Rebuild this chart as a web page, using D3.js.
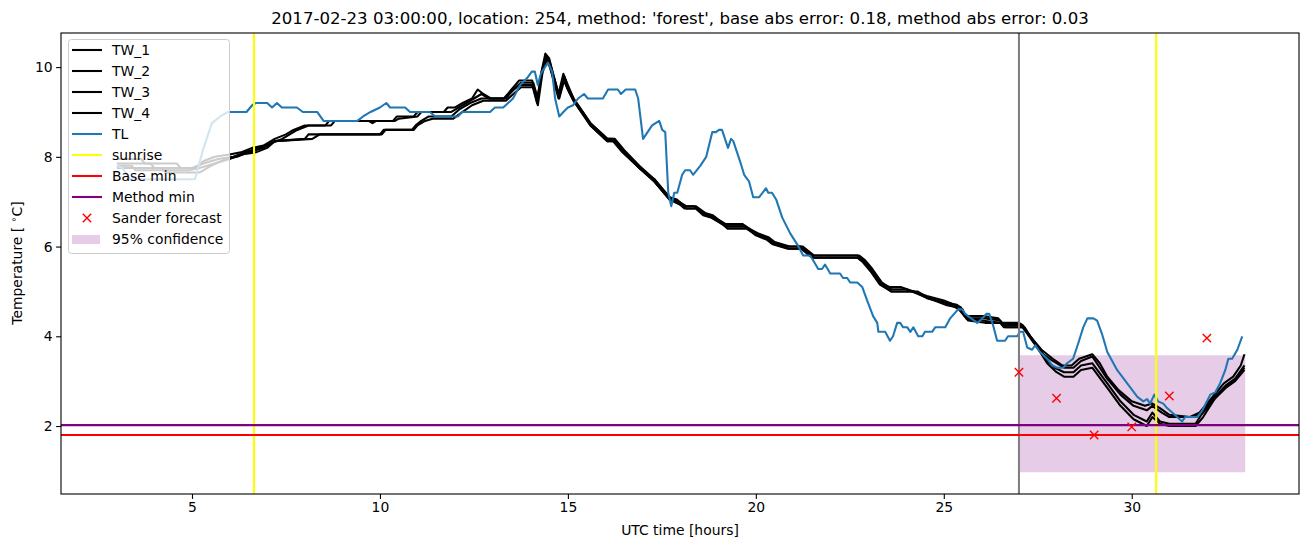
<!DOCTYPE html>
<html><head><meta charset="utf-8">
<script src="https://cdn.jsdelivr.net/npm/d3@7"></script>
<style>body{margin:0;background:#fff}svg{display:block;font-family:"DejaVu Sans",sans-serif}</style>
</head><body><svg id="c" width="1310" height="547"></svg>
<script>
const titleText = "2017-02-23 03:00:00, location: 254, method: 'forest', base abs error: 0.18, method abs error: 0.03";
const xTicks = [5, 10, 15, 20, 25, 30];
const yTicks = [2, 4, 6, 8, 10];

const TW_1 = [[3.0,7.95],[3.65,7.95],[3.75,7.85],[4.6,7.85],[4.7,7.75],[5.1,7.75],[5.3,7.9],[5.6,8.0],[6.0,8.05],[6.3,8.1],[6.6,8.2],[6.9,8.25],[7.2,8.4],[7.5,8.5],[7.7,8.6],[8.0,8.7],[8.55,8.7],[8.65,8.8],[9.7,8.8],[9.8,8.75],[9.9,8.8],[10.35,8.8],[10.45,8.9],[10.9,8.9],[11.0,9.0],[11.7,9.0],[11.8,9.1],[12.0,9.1],[12.2,9.2],[12.45,9.3],[12.6,9.5],[12.75,9.4],[12.95,9.3],[13.3,9.3],[13.5,9.5],[13.7,9.7],[14.05,9.7],[14.18,9.25],[14.3,9.9],[14.4,10.3],[14.5,10.2],[14.62,9.8],[14.75,9.4],[14.88,9.85],[15.0,9.6],[15.15,9.3],[15.6,8.75],[16.05,8.4],[16.2,8.4],[16.45,8.15],[16.9,7.75],[17.3,7.5],[17.7,7.1],[17.9,7.05],[18.1,6.9],[18.35,6.9],[18.6,6.75],[18.8,6.7],[19.0,6.6],[19.2,6.5],[19.65,6.5],[20.0,6.3],[20.3,6.2],[20.45,6.1],[20.85,6.0],[21.2,6.0],[21.35,5.9],[21.5,5.8],[22.7,5.8],[22.85,5.7],[23.05,5.5],[23.3,5.2],[23.55,5.1],[23.85,5.1],[24.2,5.0],[24.55,4.9],[25.0,4.8],[25.3,4.7],[25.45,4.65],[25.55,4.45],[26.05,4.45],[26.45,4.4],[26.55,4.3],[27.0,4.3],[27.1,4.25],[27.3,4.0],[27.6,3.7],[27.9,3.5],[28.15,3.35],[28.4,3.35],[28.6,3.5],[28.95,3.6],[29.15,3.4],[29.35,3.1],[29.65,2.8],[30.0,2.55],[30.35,2.45],[30.55,2.5],[30.75,2.4],[31.0,2.25],[31.55,2.2],[31.8,2.3],[32.15,2.65],[32.45,2.95],[32.7,3.1],[32.9,3.35],[33.0,3.6]];
const TW_2 = [[3.0,7.85],[3.9,7.85],[4.0,7.75],[5.0,7.75],[5.3,7.85],[5.7,7.95],[6.1,8.0],[6.4,8.1],[6.8,8.2],[7.1,8.3],[7.4,8.4],[7.8,8.6],[8.1,8.7],[8.7,8.7],[8.8,8.8],[10.4,8.8],[10.5,8.85],[11.0,8.9],[11.1,9.0],[11.9,9.0],[12.1,9.1],[12.5,9.3],[12.7,9.4],[12.9,9.3],[13.35,9.3],[13.55,9.5],[13.75,9.65],[14.08,9.65],[14.2,9.3],[14.32,9.95],[14.42,10.25],[14.52,10.1],[14.64,9.75],[14.77,9.35],[14.9,9.8],[15.0,9.55],[15.15,9.3],[15.6,8.75],[16.05,8.4],[16.25,8.4],[16.5,8.15],[16.9,7.8],[17.3,7.5],[17.7,7.1],[17.95,7.0],[18.15,6.9],[18.4,6.9],[18.65,6.75],[18.85,6.7],[19.0,6.6],[19.25,6.45],[19.7,6.45],[20.05,6.3],[20.35,6.2],[20.5,6.1],[20.9,6.0],[21.25,6.0],[21.4,5.9],[21.55,5.8],[22.75,5.8],[22.9,5.7],[23.1,5.5],[23.35,5.2],[23.6,5.05],[24.0,5.05],[24.3,4.95],[24.6,4.85],[25.05,4.75],[25.35,4.7],[25.5,4.6],[25.6,4.4],[26.1,4.4],[26.5,4.35],[26.6,4.25],[27.05,4.25],[27.35,3.95],[27.65,3.6],[27.9,3.45],[28.2,3.3],[28.45,3.3],[28.65,3.45],[28.95,3.55],[29.35,3.05],[29.7,2.7],[30.05,2.45],[30.4,2.35],[30.55,2.45],[30.8,2.3],[31.0,2.2],[31.6,2.2],[31.85,2.3],[32.2,2.65],[32.5,2.9],[32.75,3.05],[33.0,3.35]];
const TW_3 = [[3.0,7.75],[4.2,7.75],[4.3,7.65],[5.2,7.65],[5.5,7.8],[5.9,7.95],[6.2,8.0],[6.5,8.1],[6.9,8.2],[7.2,8.35],[8.0,8.4],[8.1,8.5],[10.0,8.5],[10.1,8.6],[10.85,8.6],[10.95,8.7],[11.1,8.8],[11.3,8.9],[11.9,8.9],[12.1,9.05],[12.4,9.2],[12.7,9.3],[13.3,9.3],[13.5,9.45],[13.7,9.6],[14.05,9.6],[14.18,9.2],[14.3,9.9],[14.42,10.2],[14.52,10.05],[14.62,9.7],[14.75,9.3],[14.88,9.75],[15.0,9.5],[15.15,9.25],[15.6,8.7],[16.05,8.35],[16.2,8.35],[16.45,8.1],[16.9,7.75],[17.3,7.45],[17.7,7.05],[17.9,7.0],[18.1,6.85],[18.4,6.85],[18.6,6.7],[18.8,6.65],[19.0,6.55],[19.2,6.45],[19.7,6.45],[20.0,6.25],[20.3,6.15],[20.45,6.05],[20.85,5.95],[21.2,5.95],[21.35,5.85],[21.5,5.75],[22.7,5.75],[22.85,5.65],[23.05,5.45],[23.3,5.15],[23.6,5.0],[24.2,5.0],[24.55,4.85],[25.0,4.75],[25.3,4.65],[25.5,4.55],[25.6,4.4],[26.0,4.35],[26.5,4.3],[26.6,4.2],[27.1,4.2],[27.4,3.85],[27.7,3.5],[27.95,3.3],[28.2,3.2],[28.45,3.2],[28.65,3.35],[28.95,3.4],[29.35,2.95],[29.7,2.55],[30.05,2.25],[30.4,2.1],[30.55,2.3],[30.75,2.1],[31.0,2.05],[31.7,2.05],[31.85,2.25],[32.2,2.6],[32.5,2.9],[32.75,3.05],[33.0,3.3]];
const TW_4 = [[3.0,7.8],[3.4,7.8],[3.5,7.7],[4.9,7.7],[5.2,7.75],[5.6,7.85],[6.0,7.95],[6.3,8.05],[6.7,8.1],[7.0,8.2],[7.2,8.35],[8.2,8.4],[8.4,8.5],[10.05,8.5],[10.15,8.6],[10.9,8.6],[11.0,8.7],[11.2,8.8],[11.4,8.85],[11.95,8.85],[12.2,9.0],[12.45,9.15],[12.75,9.25],[13.35,9.25],[13.55,9.4],[13.75,9.55],[14.08,9.55],[14.2,9.15],[14.32,9.85],[14.42,10.15],[14.52,10.0],[14.64,9.65],[14.77,9.3],[14.9,9.7],[15.0,9.5],[15.15,9.25],[15.6,8.7],[16.05,8.35],[16.25,8.35],[16.5,8.1],[16.9,7.75],[17.3,7.45],[17.7,7.05],[17.95,6.95],[18.15,6.85],[18.45,6.85],[18.65,6.7],[18.85,6.65],[19.05,6.55],[19.25,6.4],[19.75,6.4],[20.05,6.25],[20.35,6.15],[20.5,6.05],[20.9,5.95],[21.25,5.95],[21.4,5.85],[21.55,5.75],[22.75,5.75],[22.9,5.65],[23.1,5.45],[23.35,5.15],[23.6,5.0],[24.3,5.0],[24.6,4.85],[25.05,4.7],[25.35,4.65],[25.5,4.5],[25.65,4.35],[26.1,4.3],[26.55,4.3],[26.65,4.2],[27.15,4.2],[27.45,3.8],[27.75,3.4],[28.0,3.2],[28.2,3.1],[28.45,3.1],[28.65,3.25],[28.95,3.3],[29.35,2.85],[29.7,2.45],[30.05,2.15],[30.4,2.0],[30.55,2.2],[30.75,2.05],[31.0,2.0],[31.7,2.0],[31.9,2.2],[32.2,2.6],[32.5,2.85],[32.75,3.0],[33.0,3.25]];
const TL = [[3.0,7.8],[3.15,7.75],[3.35,7.5],[5.08,7.5],[5.29,8.15],[5.53,8.75],[5.75,8.9],[5.96,9.0],[6.45,9.0],[6.6,9.15],[6.7,9.2],[7.0,9.2],[7.13,9.1],[7.26,9.2],[7.39,9.1],[7.79,9.1],[7.95,9.0],[8.33,9.0],[8.5,8.8],[9.4,8.8],[9.55,8.9],[9.75,9.0],[10.0,9.1],[10.17,9.2],[10.27,9.1],[10.67,9.1],[10.8,9.0],[11.33,9.0],[11.47,8.9],[12.08,8.9],[12.18,9.0],[12.93,9.0],[13.06,9.1],[13.28,9.1],[13.41,9.2],[13.54,9.3],[13.73,9.6],[13.91,9.75],[14.04,9.9],[14.12,9.9],[14.2,9.6],[14.28,9.85],[14.39,10.0],[14.47,10.1],[14.58,9.9],[14.66,9.3],[14.77,8.9],[14.88,9.0],[15.0,9.1],[15.14,9.15],[15.27,9.3],[15.43,9.4],[15.53,9.3],[15.93,9.3],[16.07,9.5],[16.33,9.5],[16.41,9.4],[16.54,9.5],[16.79,9.5],[16.87,9.3],[17.0,8.4],[17.24,8.7],[17.43,8.8],[17.51,8.6],[17.59,8.55],[17.67,7.2],[17.75,6.9],[17.83,7.2],[17.91,7.2],[18.04,7.6],[18.12,7.7],[18.25,7.7],[18.33,7.6],[18.52,7.8],[18.68,8.0],[18.84,8.55],[18.94,8.55],[19.02,8.6],[19.1,8.6],[19.26,8.2],[19.34,8.4],[19.4,8.35],[19.58,7.9],[19.69,7.6],[19.82,7.45],[19.93,7.1],[20.09,7.1],[20.27,7.3],[20.33,7.2],[20.43,7.2],[20.54,7.05],[20.7,6.65],[20.91,6.3],[21.1,6.05],[21.26,5.8],[21.44,5.8],[21.52,5.7],[21.66,5.5],[21.76,5.5],[21.84,5.6],[21.98,5.4],[22.24,5.4],[22.32,5.3],[22.43,5.3],[22.51,5.2],[22.7,5.2],[22.83,5.1],[22.96,4.8],[23.12,4.45],[23.23,4.3],[23.26,4.1],[23.44,4.1],[23.57,3.9],[23.65,4.0],[23.76,4.3],[23.84,4.3],[23.92,4.2],[24.03,4.2],[24.11,4.1],[24.19,4.2],[24.32,4.0],[24.43,4.0],[24.5,4.1],[24.69,4.1],[24.77,4.2],[25.04,4.2],[25.17,4.4],[25.38,4.6],[25.49,4.6],[25.57,4.5],[25.89,4.3],[25.97,4.35],[26.13,4.5],[26.21,4.5],[26.31,4.25],[26.42,3.9],[26.63,3.9],[26.71,4.0],[26.95,4.0],[27.03,4.1],[27.11,4.1],[27.22,3.75],[27.35,3.7],[27.43,3.8],[27.56,3.65],[27.75,3.5],[27.88,3.35],[28.02,3.3],[28.18,3.3],[28.28,3.4],[28.44,3.5],[28.58,3.85],[28.71,4.2],[28.82,4.4],[28.98,4.4],[29.08,4.35],[29.21,4.05],[29.35,3.65],[29.61,3.25],[29.88,2.95],[30.15,2.65],[30.31,2.55],[30.41,2.6],[30.49,2.5],[30.6,2.7],[30.7,2.55],[30.84,2.5],[30.94,2.4],[31.21,2.2],[31.34,2.1],[31.42,2.2],[31.74,2.2],[31.88,2.35],[32.09,2.7],[32.22,2.75],[32.35,2.95],[32.49,3.25],[32.57,3.5],[32.67,3.5],[32.81,3.7],[32.94,4.0]];

const sunriseTimes = [6.65, 30.65];
const analysisTime = 27.0;
const baseMin = 1.8;
const methodMin = 2.02;
const sanderHours = [27, 28, 29, 30, 31, 32];
const sanderValues = [3.2, 2.62, 1.8, 1.98, 2.67, 3.96];
const confStart = 27.0, confEnd = 33.02, confLow = 0.97, confHigh = 3.58;

const legendLabels = ["TW_1","TW_2","TW_3","TW_4","TL","sunrise","Base min","Method min","Sander forecast","95% confidence"];

const L = 61, R = 1299, T = 33, B = 494;
const LW = 2.08;
const x = d3.scaleLinear().domain([1.515, 34.45]).range([L, R]);
const y = d3.scaleLinear().domain([0.485, 10.76]).range([B, T]);
const svg = d3.select("#c");

svg.append("defs").append("clipPath").attr("id","clip").append("rect")
  .attr("x",L).attr("y",T).attr("width",R-L).attr("height",B-T);
const g = svg.append("g").attr("clip-path","url(#clip)");

// confidence band
g.append("path")
  .datum([[confStart,confLow,confHigh],[confEnd,confLow,confHigh]])
  .attr("d", d3.area().x(d=>x(d[0])).y0(d=>y(d[1])).y1(d=>y(d[2])))
  .attr("fill","purple").attr("fill-opacity",0.2);

const line = d3.line().x(d=>x(d[0])).y(d=>y(d[1]));
[TW_1,TW_2,TW_3,TW_4].forEach(s=>{
  g.append("path").datum(s).attr("d",line).attr("fill","none")
   .attr("stroke","black").attr("stroke-width",LW).attr("stroke-linejoin","round");
});
g.append("path").datum(TL).attr("d",line).attr("fill","none")
  .attr("stroke","#1f77b4").attr("stroke-width",LW).attr("stroke-linejoin","round");

g.append("line").attr("x1",x(analysisTime)).attr("x2",x(analysisTime)).attr("y1",T).attr("y2",B)
  .attr("stroke","gray").attr("stroke-width",LW);
sunriseTimes.forEach(s=>{
  g.append("line").attr("x1",x(s)).attr("x2",x(s)).attr("y1",T).attr("y2",B)
   .attr("stroke","yellow").attr("stroke-width",LW);
});
g.append("line").attr("x1",L).attr("x2",R).attr("y1",y(baseMin)).attr("y2",y(baseMin))
  .attr("stroke","red").attr("stroke-width",LW);
g.append("line").attr("x1",L).attr("x2",R).attr("y1",y(methodMin)).attr("y2",y(methodMin))
  .attr("stroke","purple").attr("stroke-width",LW);

function xMark(sel, cx, cy){
  const s = 4.2;
  sel.append("path").attr("d",`M${cx-s},${cy-s}L${cx+s},${cy+s}M${cx-s},${cy+s}L${cx+s},${cy-s}`)
    .attr("stroke","red").attr("stroke-width",1.4).attr("fill","none");
}
sanderHours.forEach((h,i)=>xMark(g, x(h), y(sanderValues[i])));

// axes
const xa = svg.append("g").attr("transform",`translate(0,${B})`)
  .call(d3.axisBottom(x).tickValues(xTicks).tickSize(4.9).tickPadding(3.5).tickFormat(d3.format("d")));
const ya = svg.append("g").attr("transform",`translate(${L},0)`)
  .call(d3.axisLeft(y).tickValues(yTicks).tickSize(4.9).tickPadding(3.5).tickFormat(d3.format("d")));
[xa,ya].forEach(a=>{
  a.select(".domain").remove();
  a.selectAll("text").attr("font-family","DejaVu Sans").attr("font-size","13.9px").attr("fill","#000");
  a.selectAll("line").attr("stroke","#000").attr("stroke-width",1.1);
});
svg.append("rect").attr("x",L).attr("y",T).attr("width",R-L).attr("height",B-T)
  .attr("fill","none").attr("stroke","#000").attr("stroke-width",1.1);

svg.append("text").attr("x",(L+R)/2).attr("y",24).attr("text-anchor","middle")
  .attr("font-size","16.6px").text(titleText);
svg.append("text").attr("x",(L+R)/2).attr("y",535).attr("text-anchor","middle")
  .attr("font-size","13.9px").text("UTC time [hours]");
const yl = svg.append("text").attr("transform","translate(22,263) rotate(-90)")
  .attr("text-anchor","middle").attr("font-size","13.9px");
yl.append("tspan").text("Temperature [ ");
yl.append("tspan").attr("font-size","9.5px").attr("dy",-5).text("∘");
yl.append("tspan").attr("dy",5).text("C]");

// legend
const lg = svg.append("g");
lg.append("rect").attr("x",68.5).attr("y",39.5).attr("width",161).attr("height",214).attr("rx",3)
  .attr("fill","white").attr("fill-opacity",0.8).attr("stroke","#cccccc").attr("stroke-width",1);
const legendStyles = [
  {t:"line",c:"black"},{t:"line",c:"black"},{t:"line",c:"black"},{t:"line",c:"black"},
  {t:"line",c:"#1f77b4"},{t:"line",c:"yellow"},{t:"line",c:"red"},{t:"line",c:"purple"},
  {t:"x",c:"red"},{t:"patch",c:"purple"}];
legendLabels.forEach((lab,i)=>{
  const cy = 50 + i*21;
  const st = legendStyles[i];
  if(st.t==="line") lg.append("line").attr("x1",72).attr("x2",102).attr("y1",cy).attr("y2",cy)
      .attr("stroke",st.c).attr("stroke-width",LW);
  else if(st.t==="x") xMark(lg, 87, cy);
  else lg.append("rect").attr("x",72).attr("y",cy-4).attr("width",28).attr("height",9)
      .attr("fill",st.c).attr("fill-opacity",0.2);
  lg.append("text").attr("x",112).attr("y",cy+5).attr("font-size","13.9px").text(lab);
});
</script></body></html>
